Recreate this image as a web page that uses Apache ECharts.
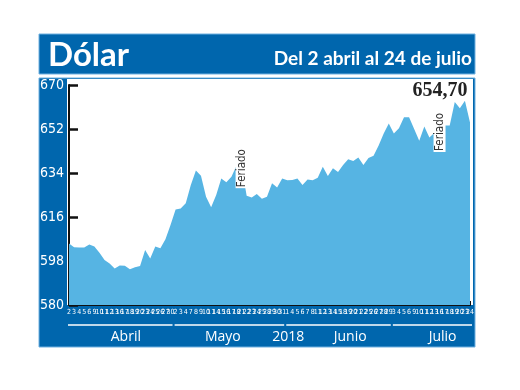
<!DOCTYPE html>
<html><head><meta charset="utf-8">
<script src="https://cdn.jsdelivr.net/npm/echarts@6/dist/echarts.min.js"></script>
<style>html,body{margin:0;padding:0;background:#fff}#c{width:520px;height:390px}</style>
</head><body><div id="c"></div>
<script>
const titleText = 'Dólar';
const subtitleText = 'Del 2 abril al 24 de julio';
const yearText = '2018';
const monthNames = ['Abril', 'Mayo', 'Junio', 'Julio'];
const daysAbril = [2,3,4,5,6,9,10,11,12,13,16,17,18,19,20,23,24,25,26,27,30];
const daysMayo = [2,3,4,7,8,9,10,11,14,15,16,17,18,21,22,23,24,25,28,29,30,31];
const daysJunio = [1,4,5,6,7,8,11,12,13,14,15,18,19,20,21,22,25,26,27,28,29];
const daysJulio = [3,4,5,6,9,10,11,12,13,16,17,18,19,20,23,24];
const valAbril = [605.2,603.6,603.5,603.5,604.8,603.9,601.4,598.4,597.0,594.9,596.2,596.1,594.6,595.4,596.0,602.5,599.0,603.9,603.2,606.9,612.7];
const valMayo = [619.1,619.5,621.6,629.1,635.0,632.9,624.3,620.0,625.0,631.8,630.2,632.5,637.0,636.8,624.7,624.0,625.4,623.5,624.3,629.8,628.1,631.8];
const valJunio = [631.0,631.1,631.8,629.1,631.3,631.0,632.1,636.6,632.8,635.9,634.4,637.3,639.6,638.9,640.3,637.3,640.1,641.1,645.2,650.2,654.3];
const valJulio = [650.2,652.3,656.8,656.8,652.0,647.2,653.0,648.5,650.5,651.6,653.4,653.4,663.0,660.5,663.6,654.7];
const feriados = [['Mayo', 21], ['Julio', 16]];
const feriadoText = 'Feriado';
const yTicks = [580, 598, 616, 634, 652, 670];

const monthDays = [daysAbril, daysMayo, daysJunio, daysJulio];
const monthVals = [valAbril, valMayo, valJunio, valJulio];
const categories = [], values = [];
monthDays.forEach((ds, m) => ds.forEach((d, k) => { categories.push(monthNames[m] + '-' + d); values.push(monthVals[m][k]); }));
const lastIdx = categories.length - 1;

const BLUE = '#0066ad', EDGE = '#6fb0e0', AREA = '#56b4e3';
const NARROW = '"Liberation Sans Narrow","DejaVu Sans Condensed",sans-serif';

const chart = echarts.init(document.getElementById('c'), null, {renderer: 'canvas'});
const option = {
  animation: false,
  grid: {left: 69, right: 50, top: 85, bottom: 85},
  xAxis: {
    type: 'category', data: categories, boundaryGap: false,
    axisLine: {lineStyle: {color: '#111', width: 2}},
    axisTick: {show: true, inside: true, length: 4, interval: (i) => i === lastIdx, lineStyle: {color: '#111', width: 2}},
    axisLabel: {interval: 0, hideOverlap: false, color: '#fff', fontSize: 7, fontFamily: NARROW, margin: 4,
      formatter: (v) => v.split('-')[1]},
    splitLine: {show: false}
  },
  yAxis: {
    type: 'value', min: yTicks[0], max: yTicks[yTicks.length - 1], interval: yTicks[1] - yTicks[0],
    axisLine: {show: true, lineStyle: {color: '#111', width: 2}},
    axisTick: {show: true, inside: true, length: 9, lineStyle: {color: '#111', width: 2.5}},
    axisLabel: {color: '#fff', fontSize: 14, fontFamily: NARROW, margin: 5},
    splitLine: {show: false}
  },
  series: [{
    type: 'line', data: values, showSymbol: false, symbol: 'none',
    lineStyle: {width: 0, color: AREA}, itemStyle: {color: AREA},
    areaStyle: {color: AREA, opacity: 1},
    markPoint: {
      symbol: 'rect', symbolSize: 1, itemStyle: {color: 'rgba(0,0,0,0)'},
      data: feriados.map(([m, d]) => {
        const idx = categories.indexOf(m + '-' + d);
        return {coord: [categories[idx], values[idx]], label: {show: true, position: 'inside', formatter: feriadoText, rotate: 90,
          color: '#333', fontSize: 11.5, fontFamily: NARROW, backgroundColor: '#fff', padding: [0, 1], offset: [-2, 0]}};
      }).concat([{coord: [categories[lastIdx], values[lastIdx]], label: {show: true, position: 'inside',
        formatter: values[lastIdx].toFixed(2).replace('.', ','), color: '#222', fontSize: 20, fontWeight: 'bold',
        fontFamily: '"Liberation Serif",serif', offset: [-30, -32]}}])
    },
    z: 3
  }]
};
chart.setOption(option);

const px = (i) => { const r = chart.convertToPixel({xAxisIndex: 0}, categories[i]); return Array.isArray(r) ? r[0] : r; };
const py = (v) => { const r = chart.convertToPixel({yAxisIndex: 0}, v); return Array.isArray(r) ? r[1] : r; };
const pxf = (f) => { const a = Math.floor(f), b = Math.min(a + 1, lastIdx); return px(a) + (px(b) - px(a)) * (f - a); };
const yBase = py(yTicks[0]);
const yTop = py(yTicks[yTicks.length - 1]);
const xL = px(0), xR = px(lastIdx);

const g = [];
g.push({type: 'rect', shape: {x: 39, y: 34, width: 436, height: 40}, style: {fill: BLUE, stroke: EDGE, lineWidth: 1}, z: -10});
g.push({type: 'rect', shape: {x: 39, y: 78, width: 436, height: 269}, style: {fill: BLUE, stroke: EDGE, lineWidth: 1}, z: -10});
g.push({type: 'rect', shape: {x: xL - 2, y: yTop - 6, width: xR - xL + 5, height: yBase - yTop + 6}, style: {fill: '#fff'}, z: -9});
g.push({type: 'text', x: 48, y: 55, style: {text: titleText, fill: '#fff', font: 'bold 33px Lato, "Open Sans", sans-serif', verticalAlign: 'middle'}, z: 5});
g.push({type: 'text', x: 472, y: 59, style: {text: subtitleText, fill: '#fff', font: 'bold 19px Lato, "Open Sans", sans-serif', align: 'right', verticalAlign: 'middle'}, z: 5});
const labelAnchor = [11.2, 30.3, 55.4, 73.6];
let start = 0;
monthDays.forEach((ds, m) => {
  const s = start, e = start + ds.length - 1;
  g.push({type: 'line', shape: {x1: px(s) - 1, y1: yBase + 20, x2: px(e) + 2, y2: yBase + 20}, style: {stroke: '#fff', lineWidth: 1.5}, z: 5});
  g.push({type: 'text', x: pxf(labelAnchor[m]), y: yBase + 32, style: {text: monthNames[m], fill: '#fff', font: '14px "Open Sans", "Liberation Sans", sans-serif', align: 'center', verticalAlign: 'middle'}, z: 5});
  start = e + 1;
});
g.push({type: 'text', x: pxf(43.2), y: yBase + 32, style: {text: yearText, fill: '#fff', font: '14px "Open Sans", "Liberation Sans", sans-serif', align: 'center', verticalAlign: 'middle'}, z: 5});
chart.setOption({graphic: {elements: g}});
</script></body></html>
